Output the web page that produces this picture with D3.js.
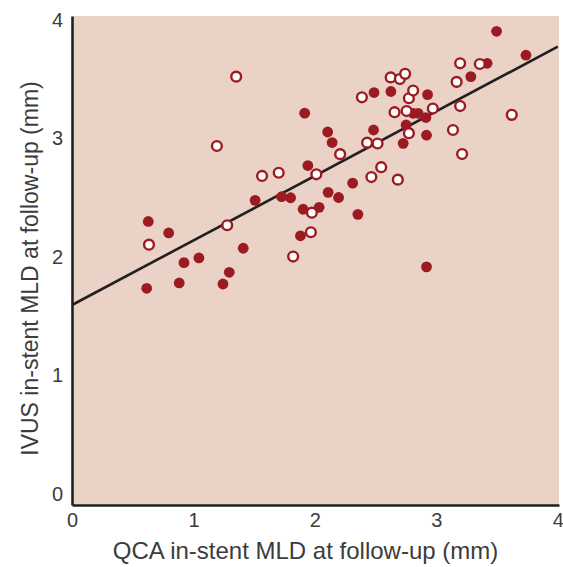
<!DOCTYPE html>
<html>
<head>
<meta charset="utf-8">
<script src="https://cdn.jsdelivr.net/npm/d3@7"></script>
<style>
  html, body { margin: 0; padding: 0; background: #ffffff; }
  svg { display: block; }
  .tick text { font-family: "Liberation Sans", Arial, sans-serif; fill: #3c3c3c; }
</style>
</head>
<body>
<svg id="chart" width="563" height="567"></svg>
<script>
// QCA (x) vs IVUS (y) in-stent MLD at follow-up, mm
const filledX = [0.615, 0.628, 0.796, 0.883, 0.922, 1.045, 1.243, 1.295, 1.410, 1.508,
                 1.726, 1.800, 1.881, 1.903, 1.916, 1.942, 2.035, 2.105, 2.109, 2.142,
                 2.195, 2.311, 2.354, 2.483, 2.487, 2.626, 2.727, 2.751, 2.809, 2.850,
                 2.914, 2.919, 2.919, 2.928, 3.284, 3.418, 3.496, 3.738];
const filledY = [1.736, 2.300, 2.203, 1.781, 1.952, 1.992, 1.772, 1.871, 2.074, 2.478,
                 2.509, 2.500, 2.179, 2.403, 3.214, 2.772, 2.419, 3.055, 2.546, 2.966,
                 2.502, 2.623, 2.360, 3.072, 3.388, 3.397, 2.959, 3.114, 3.213, 3.213,
                 3.177, 3.028, 1.917, 3.371, 3.522, 3.635, 3.905, 3.703];

const openX = [0.634, 1.193, 1.278, 1.352, 1.565, 1.702, 1.821, 1.967, 1.975, 2.012,
               2.208, 2.387, 2.430, 2.465, 2.516, 2.546, 2.624, 2.656, 2.683, 2.700,
               2.743, 2.755, 2.774, 2.774, 2.809, 2.971, 3.137, 3.167, 3.196, 3.196,
               3.212, 3.358, 3.621];
const openY = [2.104, 2.937, 2.268, 3.522, 2.684, 2.711, 2.004, 2.209, 2.374, 2.698,
               2.868, 3.348, 2.965, 2.675, 2.958, 2.758, 3.516, 3.222, 2.653, 3.502,
               3.546, 3.232, 3.340, 3.045, 3.405, 3.253, 3.072, 3.478, 3.635, 3.274,
               2.869, 3.629, 3.200];

// Fitted regression line: IVUS = intercept + slope * QCA
const fitIntercept = 1.595;
const fitSlope = 0.545;

const xTicks = [0, 1, 2, 3, 4];
const yTicks = [0, 1, 2, 3, 4];
const xTitle = "QCA in-stent MLD at follow-up (mm)";
const yTitle = "IVUS in-stent MLD at follow-up (mm)";

const red = "#9c1a21";
const ink = "#231f20";
const labelFont = "Liberation Sans, Arial, sans-serif";

const svg = d3.select("#chart");

const x = d3.scaleLinear().domain([0, 4.01]).range([72, 559]);
const y = d3.scaleLinear().domain([-0.093, 4.034]).range([505, 16]);

// plot background
svg.append("rect")
  .attr("x", x.range()[0])
  .attr("y", y.range()[1])
  .attr("width", x.range()[1] - x.range()[0])
  .attr("height", y.range()[0] - y.range()[1])
  .attr("fill", "#ead2c6");

// regression line
svg.append("line")
  .attr("x1", x(0)).attr("y1", y(fitIntercept))
  .attr("x2", x(4)).attr("y2", y(fitIntercept + fitSlope * 4))
  .attr("stroke", ink)
  .attr("stroke-width", 2.6);

// filled markers
svg.append("g").selectAll("circle")
  .data(d3.range(filledX.length))
  .join("circle")
  .attr("cx", i => x(filledX[i]))
  .attr("cy", i => y(filledY[i]))
  .attr("r", 5.4)
  .attr("fill", red);

// open markers
svg.append("g").selectAll("circle")
  .data(d3.range(openX.length))
  .join("circle")
  .attr("cx", i => x(openX[i]))
  .attr("cy", i => y(openY[i]))
  .attr("r", 4.9)
  .attr("fill", "#ffffff")
  .attr("stroke", red)
  .attr("stroke-width", 2.4);

// axes
const xAxis = svg.append("g")
  .attr("transform", `translate(0,${y.range()[0]})`)
  .call(d3.axisBottom(x).tickValues(xTicks).tickFormat(d3.format("d"))
        .tickSize(0).tickSizeOuter(0).tickPadding(8));
xAxis.selectAll(".tick text").attr("font-size", 20);

const yAxis = svg.append("g")
  .attr("transform", `translate(${x.range()[0]},0)`)
  .call(d3.axisLeft(y).tickValues(yTicks).tickFormat(d3.format("d"))
        .tickSize(0).tickSizeOuter(0).tickPadding(9));
yAxis.selectAll(".tick text").attr("font-size", 20);

[xAxis, yAxis].forEach(a => a.select(".domain")
  .attr("stroke", ink).attr("stroke-width", 2.6));

// axis titles
svg.append("text")
  .attr("x", (x.range()[0] + x.range()[1]) / 2 - 10)
  .attr("y", 559)
  .attr("text-anchor", "middle")
  .attr("font-family", labelFont)
  .attr("font-size", 24)
  .attr("fill", "#3c3c3c")
  .text(xTitle);

svg.append("text")
  .attr("transform", `translate(38,${(y.range()[0] + y.range()[1]) / 2 + 8}) rotate(-90)`)
  .attr("text-anchor", "middle")
  .attr("font-family", labelFont)
  .attr("font-size", 23)
  .attr("fill", "#3c3c3c")
  .text(yTitle);
</script>
</body>
</html>
